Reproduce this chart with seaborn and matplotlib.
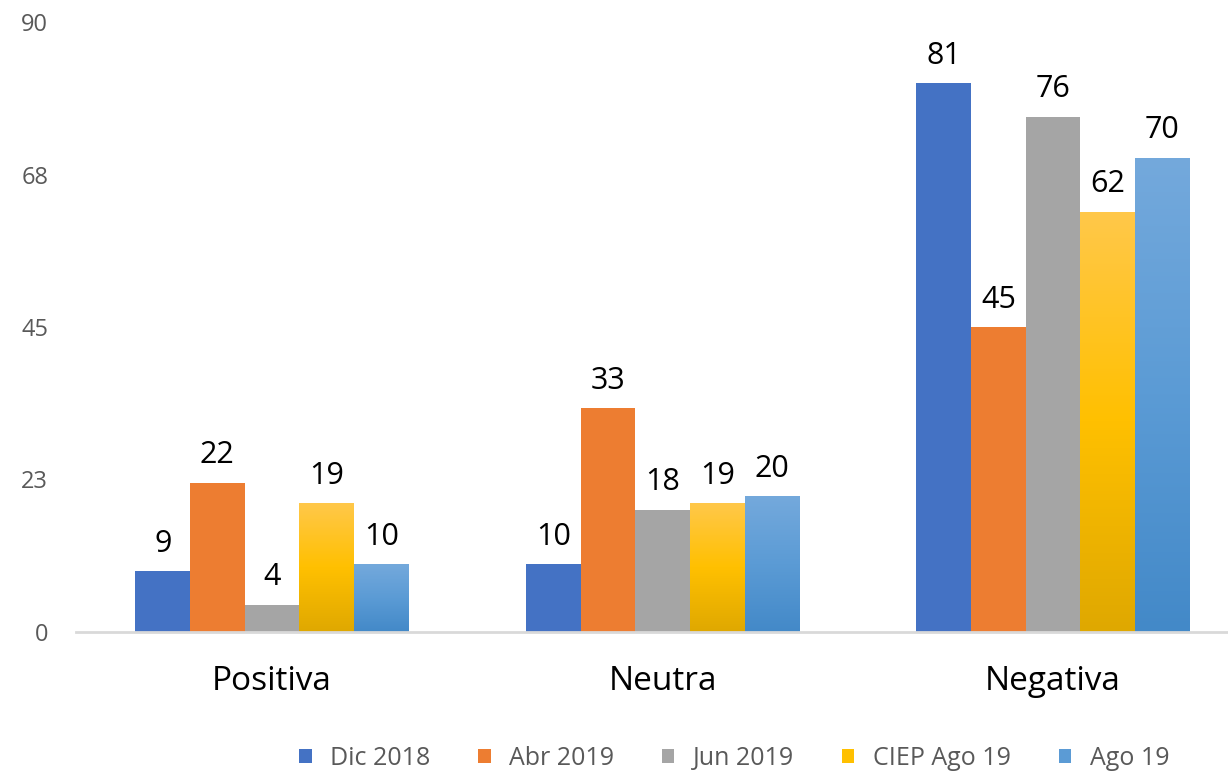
import numpy as np
import pandas as pd
import matplotlib
matplotlib.use("Agg")
import matplotlib.pyplot as plt
import seaborn as sns
from matplotlib.colors import LinearSegmentedColormap
from matplotlib.patches import Patch

# data
categories = ["Positiva", "Neutra", "Negativa"]
series = ["Dic 2018", "Abr 2019", "Jun 2019", "CIEP Ago 19", "Ago 19"]
dic_2018 = [9, 10, 81]
abr_2019 = [22, 33, 45]
jun_2019 = [4, 18, 76]
ciep_ago_19 = [19, 19, 62]
ago_19 = [10, 20, 70]
y_ticks = [0, 22.5, 45, 67.5, 90]
y_tick_labels = ["0", "23", "45", "68", "90"]

colors = ["#4472C4", "#ED7D31", "#A5A5A5", "#FFC000", "#5B9BD5"]
gradients = {
    "CIEP Ago 19": ["#DFA800", "#FFC000", "#FFC84A"],
    "Ago 19": ["#4389C8", "#5B9BD5", "#74A9DC"],
}

values = [dic_2018, abr_2019, jun_2019, ciep_ago_19, ago_19]
df = pd.DataFrame({
    "categoria": np.tile(categories, len(series)),
    "serie": np.repeat(series, len(categories)),
    "valor": np.concatenate(values),
})

sns.set_style("white")
plt.rcParams["font.family"] = ["Open Sans", "DejaVu Sans"]

fig = plt.figure(figsize=(12.28, 7.74), dpi=100)
ax = fig.add_axes([76 / 1228, 1 - 632 / 774, 1 - 76 / 1228, (632 - 22) / 774])

sns.barplot(data=df, x="categoria", y="valor", hue="serie", order=categories,
            hue_order=series, palette=colors, width=0.7, saturation=1,
            linewidth=0, legend=False, ax=ax)

# gradient fills for the last two series
for name, cont in zip(series, ax.containers):
    if name not in gradients:
        continue
    cmap = LinearSegmentedColormap.from_list(name, gradients[name])
    grad = np.linspace(0, 1, 256).reshape(-1, 1)
    for bar in cont:
        x, w, h = bar.get_x(), bar.get_width(), bar.get_height()
        im = ax.imshow(grad, cmap=cmap, aspect="auto", origin="lower",
                       extent=[x, x + w, 0, h], zorder=bar.get_zorder())
        im.set_clip_path(bar)

# value labels
for cont in ax.containers:
    for bar in cont:
        ax.annotate(f"{bar.get_height():.0f}",
                    (bar.get_x() + bar.get_width() / 2, bar.get_height()),
                    xytext=(0, 9), textcoords="offset points",
                    ha="center", va="bottom", fontsize=22, color="black")

ax.set_xlim(-0.502, 2.448)
ax.set_ylim(0, 90)
ax.set_yticks(y_ticks)
ax.set_yticklabels(y_tick_labels)
ax.tick_params(axis="y", length=0, pad=20, labelsize=17, labelcolor="#595959")
ax.tick_params(axis="x", length=0, pad=24, labelsize=24, labelcolor="black")
ax.set_xlabel("")
ax.set_ylabel("")
for side in ["top", "right", "left"]:
    ax.spines[side].set_visible(False)
ax.spines["bottom"].set_color("#D9D9D9")
ax.spines["bottom"].set_linewidth(2)

handles = [Patch(facecolor=c, edgecolor="none") for c in colors]
fig.legend(handles, series, loc="lower center", bbox_to_anchor=(0.598, -0.025),
           ncol=5, frameon=False, fontsize=18, labelcolor="#595959",
           handlelength=0.5, handleheight=0.5, handletextpad=0.75,
           columnspacing=1.9)

fig.savefig("out.png", dpi=100)
